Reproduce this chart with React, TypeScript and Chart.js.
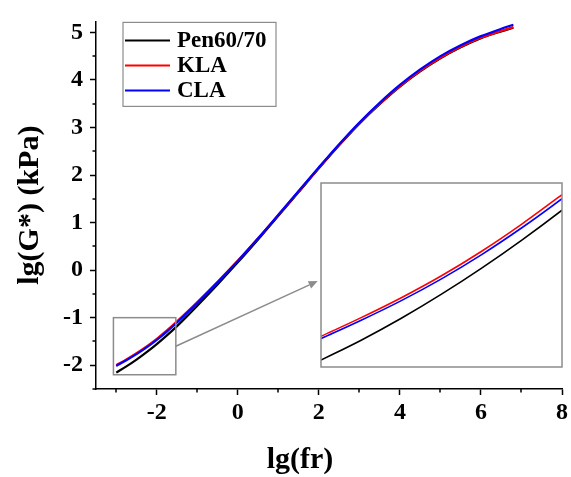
import React, { useEffect, useRef } from "react";
import { Chart, registerables } from "chart.js";

Chart.register(...registerables);

// ---------------- data ----------------
const seriesNames = ["Pen60/70", "KLA", "CLA"];
const seriesColors = ["#000000", "#ff0000", "#0000ff"];

const lgFr = [-3, -2.75, -2.5, -2.25, -2, -1.75, -1.5, -1.25, -1, -0.5, 0, 0.5, 1, 1.5, 2, 2.5, 3, 3.5, 4, 4.5, 5, 5.5, 6, 6.5, 6.8];
const pen6070 = [-2.155, -2.025, -1.882, -1.725, -1.555, -1.372, -1.177, -0.968, -0.748, -0.3, 0.163, 0.645, 1.14, 1.64, 2.14, 2.625, 3.08, 3.49, 3.86, 4.18, 4.455, 4.685, 4.875, 5.02, 5.1];
const kla = [-2.0, -1.878, -1.748, -1.605, -1.445, -1.268, -1.076, -0.878, -0.672, -0.245, 0.2, 0.67, 1.16, 1.655, 2.15, 2.635, 3.09, 3.5, 3.87, 4.19, 4.465, 4.695, 4.885, 5.03, 5.11];
const cla = [-2.015, -1.895, -1.767, -1.625, -1.467, -1.292, -1.102, -0.9, -0.692, -0.258, 0.19, 0.668, 1.163, 1.663, 2.162, 2.648, 3.105, 3.52, 3.895, 4.22, 4.5, 4.73, 4.92, 5.075, 5.16];
const seriesValues = [pen6070, kla, cla];

const xTickValues = [-2, 0, 2, 4, 6, 8];
const xMinorValues = [-3, -1, 1, 3, 5, 7];
const yTickValues = [-2, -1, 0, 1, 2, 3, 4, 5];
const yMinorValues = [-2.5, -1.5, -0.5, 0.5, 1.5, 2.5, 3.5, 4.5];

const xTitle = "lg(fr)";
const yTitle = "lg(G*) (kPa)";

const xRange = [-3.5, 8];
const yRange = [-2.5, 5.23];
const zoomBoxX = [-3.07, -1.53];
const zoomBoxY = [-2.2, -1.0];
const insetX = [-3.0, -1.5];
const insetY = [-2.2, -1.0];
const arrowFrom = [-1.53, -1.6];
const arrowTo = [1.97, -0.23];

const FONT = "'Liberation Serif', 'Times New Roman', serif";
const GRAY = "#8c8c8c";

function makeDatasets(width: number) {
  return seriesValues.map((ys, i) => ({
    label: seriesNames[i],
    data: lgFr.map((x, k) => ({ x, y: ys[k] })),
    borderColor: seriesColors[i],
    backgroundColor: seriesColors[i],
    borderWidth: width,
    pointRadius: 0,
    fill: false,
    cubicInterpolationMode: "monotone" as const,
    order: 2 - i,
  }));
}

const mainDecor = {
  id: "mainDecor",
  afterDraw(chart: any) {
    const { ctx, chartArea } = chart;
    const xs = chart.scales.x;
    const ys = chart.scales.y;
    ctx.save();
    // minor ticks
    ctx.strokeStyle = "#000";
    ctx.lineWidth = 1.5;
    ctx.beginPath();
    xMinorValues.forEach((v) => {
      const px = Math.round(xs.getPixelForValue(v));
      ctx.moveTo(px, chartArea.bottom);
      ctx.lineTo(px, chartArea.bottom + 3.5);
    });
    yMinorValues.forEach((v) => {
      const py = Math.round(ys.getPixelForValue(v));
      ctx.moveTo(chartArea.left - 3.5, py);
      ctx.lineTo(chartArea.left, py);
    });
    ctx.stroke();

    // zoom rectangle
    ctx.strokeStyle = GRAY;
    ctx.lineWidth = 1.5;
    const rx0 = xs.getPixelForValue(zoomBoxX[0]);
    const rx1 = xs.getPixelForValue(zoomBoxX[1]);
    const ry0 = ys.getPixelForValue(zoomBoxY[1]);
    const ry1 = ys.getPixelForValue(zoomBoxY[0]);
    ctx.strokeRect(rx0, ry0, rx1 - rx0, ry1 - ry0);

    // arrow
    const ax0 = xs.getPixelForValue(arrowFrom[0]);
    const ay0 = ys.getPixelForValue(arrowFrom[1]);
    const ax1 = xs.getPixelForValue(arrowTo[0]);
    const ay1 = ys.getPixelForValue(arrowTo[1]);
    const ang = Math.atan2(ay1 - ay0, ax1 - ax0);
    const hl = 9;
    const hw = 4;
    ctx.beginPath();
    ctx.moveTo(ax0, ay0);
    ctx.lineTo(ax1 - hl * Math.cos(ang), ay1 - hl * Math.sin(ang));
    ctx.stroke();
    ctx.fillStyle = GRAY;
    ctx.beginPath();
    ctx.moveTo(ax1, ay1);
    ctx.lineTo(ax1 - hl * Math.cos(ang) + hw * Math.sin(ang), ay1 - hl * Math.sin(ang) - hw * Math.cos(ang));
    ctx.lineTo(ax1 - hl * Math.cos(ang) - hw * Math.sin(ang), ay1 - hl * Math.sin(ang) + hw * Math.cos(ang));
    ctx.closePath();
    ctx.fill();

    // legend
    const lx = chartArea.left + 27;
    const ly = chartArea.top + 1;
    const lw = 153;
    const lh = 84;
    ctx.strokeStyle = GRAY;
    ctx.lineWidth = 1.2;
    ctx.strokeRect(lx, ly, lw, lh);
    ctx.font = `bold 23px ${FONT}`;
    ctx.textBaseline = "middle";
    ctx.textAlign = "left";
    seriesNames.forEach((name, i) => {
      const yy = ly + 18 + i * 25;
      ctx.strokeStyle = seriesColors[i];
      ctx.lineWidth = 2;
      ctx.beginPath();
      ctx.moveTo(lx + 2, yy);
      ctx.lineTo(lx + 47, yy);
      ctx.stroke();
      ctx.fillStyle = "#000";
      ctx.fillText(name, lx + 54, yy + 1);
    });

    // x axis title
    ctx.font = `bold 30px ${FONT}`;
    ctx.textAlign = "center";
    ctx.textBaseline = "alphabetic";
    ctx.fillStyle = "#000";
    ctx.fillText(xTitle, 300, 468);
    ctx.restore();
  },
};

const insetFrame = {
  id: "insetFrame",
  afterDraw(chart: any) {
    const { ctx, chartArea } = chart;
    ctx.save();
    ctx.strokeStyle = GRAY;
    ctx.lineWidth = 1.5;
    ctx.strokeRect(chartArea.left, chartArea.top, chartArea.right - chartArea.left, chartArea.bottom - chartArea.top);
    ctx.restore();
  },
};

export default function App() {
  const mainRef = useRef<HTMLCanvasElement>(null);
  const insetRef = useRef<HTMLCanvasElement>(null);

  useEffect(() => {
    document.body.style.margin = "0";
    const main = new Chart(mainRef.current as HTMLCanvasElement, {
      type: "line",
      data: { datasets: makeDatasets(2.2) as any },
      options: {
        animation: false,
        responsive: false,
        layout: { padding: { left: 0, top: 14, right: 8, bottom: 0 } },
        plugins: { legend: { display: false }, tooltip: { enabled: false } },
        scales: {
          x: {
            type: "linear",
            min: xRange[0],
            max: xRange[1],
            afterBuildTicks: (s: any) => {
              s.ticks = xTickValues.map((v) => ({ value: v }));
            },
            afterFit: (s: any) => {
              s.height = 88;
            },
            border: { display: true, color: "#000", width: 1.5 },
            grid: { drawOnChartArea: false, drawTicks: true, tickLength: 6, tickWidth: 1.5, tickColor: "#000" },
            ticks: { color: "#000", padding: 3, font: { family: FONT, size: 24, weight: "bold" } },
          },
          y: {
            type: "linear",
            min: yRange[0],
            max: yRange[1],
            afterBuildTicks: (s: any) => {
              s.ticks = yTickValues.map((v) => ({ value: v }));
            },
            afterFit: (s: any) => {
              s.width = 96;
            },
            border: { display: true, color: "#000", width: 1.5 },
            grid: { drawOnChartArea: false, drawTicks: true, tickLength: 6, tickWidth: 1.5, tickColor: "#000" },
            ticks: { color: "#000", padding: 7, font: { family: FONT, size: 24, weight: "bold" } },
            title: {
              display: true,
              text: yTitle,
              color: "#000",
              padding: { top: 12, bottom: 0 },
              font: { family: FONT, size: 30, weight: "bold" },
            },
          },
        },
      },
      plugins: [mainDecor],
    });

    const inset = new Chart(insetRef.current as HTMLCanvasElement, {
      type: "line",
      data: { datasets: makeDatasets(1.6) as any },
      options: {
        animation: false,
        responsive: false,
        layout: { padding: 1 },
        plugins: { legend: { display: false }, tooltip: { enabled: false } },
        scales: {
          x: { type: "linear", min: insetX[0], max: insetX[1], display: false },
          y: { type: "linear", min: insetY[0], max: insetY[1], display: false },
        },
      },
      plugins: [insetFrame],
    });

    return () => {
      main.destroy();
      inset.destroy();
    };
  }, []);

  return (
    <div style={{ position: "relative", width: 571, height: 477, background: "#fff" }}>
      <canvas ref={mainRef} width={571} height={477} style={{ position: "absolute", left: 0, top: 0 }} />
      <canvas ref={insetRef} width={243} height={186} style={{ position: "absolute", left: 320, top: 182 }} />
    </div>
  );
}
